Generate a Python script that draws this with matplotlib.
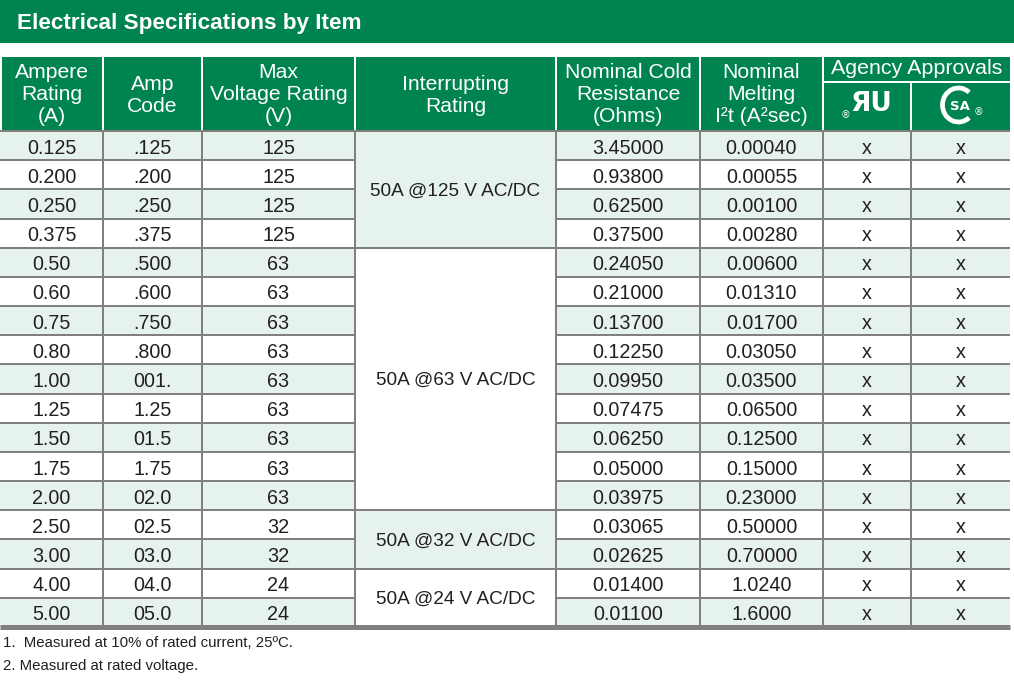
import matplotlib
matplotlib.use("Agg")
import matplotlib.pyplot as plt
from matplotlib.patches import Rectangle, Arc

# ---------------- data ----------------
ampere_rating = ["0.125", "0.200", "0.250", "0.375", "0.50", "0.60", "0.75", "0.80",
                 "1.00", "1.25", "1.50", "1.75", "2.00", "2.50", "3.00", "4.00", "5.00"]
amp_code = [".125", ".200", ".250", ".375", ".500", ".600", ".750", ".800",
            "001.", "1.25", "01.5", "1.75", "02.0", "02.5", "03.0", "04.0", "05.0"]
max_voltage = ["125", "125", "125", "125", "63", "63", "63", "63", "63", "63",
               "63", "63", "63", "32", "32", "24", "24"]
interrupt_labels = ["50A @125 V AC/DC", "50A @63 V AC/DC", "50A @32 V AC/DC", "50A @24 V AC/DC"]
interrupt_spans = [4, 9, 2, 2]
cold_resistance = ["3.45000", "0.93800", "0.62500", "0.37500", "0.24050", "0.21000",
                   "0.13700", "0.12250", "0.09950", "0.07475", "0.06250", "0.05000",
                   "0.03975", "0.03065", "0.02625", "0.01400", "0.01100"]
melting_i2t = ["0.00040", "0.00055", "0.00100", "0.00280", "0.00600", "0.01310",
               "0.01700", "0.03050", "0.03500", "0.06500", "0.12500", "0.15000",
               "0.23000", "0.50000", "0.70000", "1.0240", "1.6000"]
ul_approval = ["x"] * 17
csa_approval = ["x"] * 17

title = "Electrical Specifications by Item"
headers = [["Ampere", "Rating", "(A)"], ["Amp", "Code"], ["Max", "Voltage Rating", "(V)"],
           ["Interrupting", "Rating"], ["Nominal Cold", "Resistance", "(Ohms)"],
           ["Nominal", "Melting", "I²t (A²sec)"]]
agency_header = "Agency Approvals"
footnotes = ["1.  Measured at 10% of rated current, 25ºC.",
             "2. Measured at rated voltage."]

# ---------------- layout / style ----------------
W, H = 1014, 682
GREEN = "#00844F"
LIGHT = "#E6F3EC"
GRID = "#808080"
TXT = "#231F20"
FONT = "Liberation Sans"

col_edges = [0, 103, 202, 355, 556, 700, 823, 911, 1010]
head_top, head_bot = 57, 131
body_bot = 627
nrows = len(ampere_rating)
row_h = (body_bot - head_bot) / nrows

fig = plt.figure(figsize=(W / 100, H / 100), dpi=100)
ax = fig.add_axes([0, 0, 1, 1])
ax.set_xlim(0, W)
ax.set_ylim(H, 0)
ax.axis("off")

px = 0.72  # points per pixel

# title bar
ax.add_patch(Rectangle((0, 0), W, 43, color=GREEN, lw=0))
ax.text(17, 23, title, color="white", fontsize=16.2, fontweight="bold",
        family=FONT, va="center", ha="left")

# header
ax.add_patch(Rectangle((2, head_top), col_edges[-1] - 2, head_bot - head_top, color=GREEN, lw=0))
for x in col_edges[1:-1]:
    y0 = head_top if x != 911 else 82
    ax.plot([x, x], [y0, head_bot], color="white", lw=2 * px, solid_capstyle="butt")
ax.plot([823, col_edges[-1]], [82, 82], color="white", lw=2 * px, solid_capstyle="butt")

for i, lines in enumerate(headers):
    cx = (col_edges[i] + col_edges[i + 1]) / 2
    ys = [73, 95, 117] if len(lines) == 3 else [84, 106]
    for ln, y in zip(lines, ys):
        ax.text(cx, y, ln, color="white", fontsize=15.2, family=FONT, ha="center",
                va="center")
ax.text((823 + col_edges[-1]) / 2, 69, agency_header, color="white", fontsize=15.4,
        family=FONT, ha="center", va="center")

# UL mark
ulx = (823 + 911) / 2
ax.text(ulx + 4, 104, "ЯU", color="white", fontsize=19, fontweight="bold",
        family="DejaVu Sans", ha="center", va="center")
ax.text(ulx - 21, 115, "®", color="white", fontsize=7, family="DejaVu Sans",
        ha="center", va="center")
# CSA mark
csx = (911 + col_edges[-1]) / 2
ax.add_patch(Arc((csx - 2, 105), 32, 34, theta1=50, theta2=310, color="white", lw=3.4))
ax.text(csx - 1, 106, "SA", color="white", fontsize=9.5, fontweight="bold",
        family="DejaVu Sans", ha="center", va="center")
ax.text(csx + 18, 112, "®", color="white", fontsize=7, family="DejaVu Sans",
        ha="center", va="center")

# body shading
for r in range(nrows):
    y = head_bot + r * row_h
    if r % 2 == 0:
        ax.add_patch(Rectangle((0, y), col_edges[-1], row_h, color=LIGHT, lw=0))

# interrupting rating merged cells
start = 0
for g, (lab, span) in enumerate(zip(interrupt_labels, interrupt_spans)):
    y0 = head_bot + start * row_h
    fc = LIGHT if g % 2 == 0 else "white"
    ax.add_patch(Rectangle((col_edges[3], y0), col_edges[4] - col_edges[3], span * row_h,
                           color=fc, lw=0, zorder=1.5))
    ax.text((col_edges[3] + col_edges[4]) / 2, y0 + span * row_h / 2 + 1.5, lab, color=TXT,
            fontsize=13.7, family=FONT, ha="center", va="center", zorder=3)
    start += span

# body text
cols = [ampere_rating, amp_code, max_voltage, None, cold_resistance, melting_i2t,
        ul_approval, csa_approval]
for r in range(nrows):
    cy = head_bot + (r + 0.5) * row_h
    for c, data in enumerate(cols):
        if data is None:
            continue
        cx = (col_edges[c] + col_edges[c + 1]) / 2
        ax.text(cx, cy + 2.5, data[r], color=TXT, fontsize=14.2, family=FONT,
                ha="center", va="center", zorder=3)

# grid lines: horizontal
group_bounds = set()
acc = 0
for s in interrupt_spans:
    acc += s
    group_bounds.add(acc)
for r in range(0, nrows):
    y = head_bot + r * row_h
    if r == 0 or r in group_bounds:
        ax.plot([0, col_edges[-1]], [y, y], color=GRID, lw=2 * px, zorder=2,
                solid_capstyle="butt")
    else:
        ax.plot([0, col_edges[3]], [y, y], color=GRID, lw=2 * px, zorder=2,
                solid_capstyle="butt")
        ax.plot([col_edges[4], col_edges[-1]], [y, y], color=GRID, lw=2 * px, zorder=2,
                solid_capstyle="butt")
# vertical
for x in col_edges[1:-1]:
    ax.plot([x, x], [head_bot, body_bot], color=GRID, lw=2 * px, zorder=2,
            solid_capstyle="butt")
# bottom thick line
ax.plot([0, col_edges[-1]], [body_bot, body_bot], color=GRID, lw=5 * px, zorder=2.5,
        solid_capstyle="butt")

# footnotes
ax.text(3, 643, footnotes[0], color=TXT, fontsize=10.8, family=FONT, ha="left", va="center")
ax.text(3, 666, footnotes[1], color=TXT, fontsize=10.8, family=FONT, ha="left", va="center")

fig.savefig("out.png", dpi=100)
